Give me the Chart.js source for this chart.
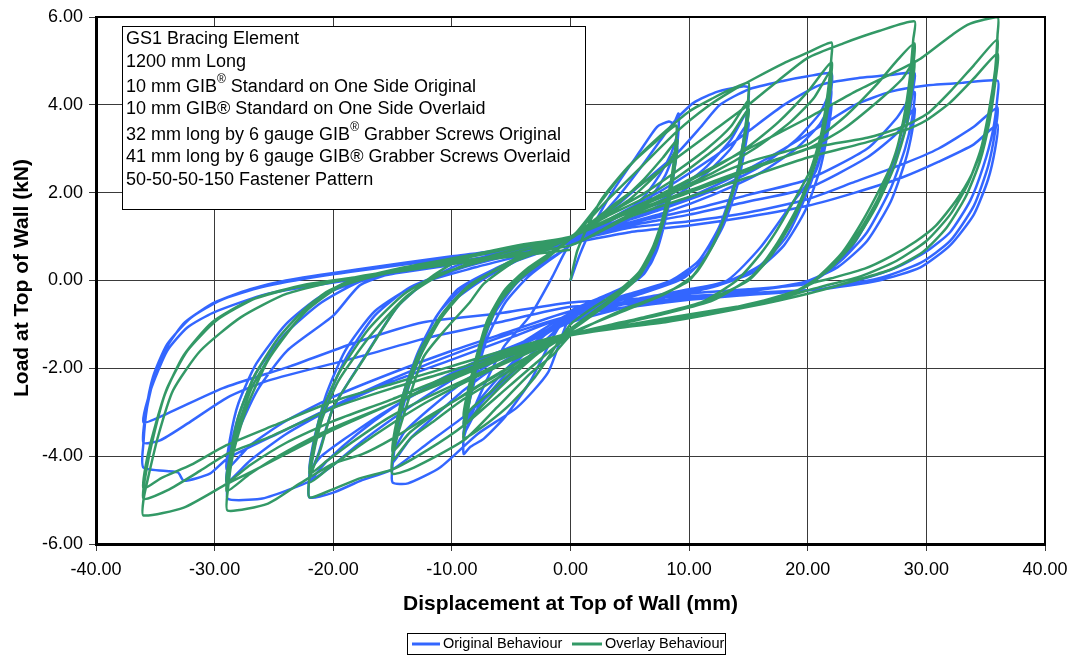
<!DOCTYPE html>
<html>
<head>
<meta charset="utf-8">
<script src="https://cdn.jsdelivr.net/npm/chart.js@4.4.0/dist/chart.umd.min.js"></script>
<style>
  html, body { margin: 0; padding: 0; background: #fff; }
  #wrap { width: 1072px; height: 655px; }
</style>
</head>
<body>
<div id="wrap"><canvas id="c" width="1072" height="655"></canvas></div>
<script>
// GS1 bracing element - load vs displacement hysteresis (original vs overlay)

const xTicks = [-40, -30, -20, -10, 0, 10, 20, 30, 40];
const yTicks = [-6, -4, -2, 0, 2, 4, 6];
const seriesNames = ['Original Behaviour', 'Overlay Behaviour'];

// Original behaviour, [displacement mm, load kN], three cycles per amplitude
const origCyc09 = [
  [0,0],[0.8,0.6],[1.7,1.14],[3.6,2.05],[5.9,2.96],[7.3,3.5],[8.3,3.62],[8.7,3.58],[9.1,3.8],
  [9.1,3.4],[8.8,2.6],[8.2,1.6],[7.3,0.7],[6.2,0.15],[4.5,-0.15],[2,-0.45],[0,-0.7],
  [-1.5,-1.3],[-3.4,-2.3],[-5.5,-3.1],[-7.3,-3.6],[-8.5,-3.8],[-9,-3.95],
  [-9,-3.6],[-8.4,-3.1],[-7.3,-2.4],[-5.6,-1.5],[-3.4,-0.8],[-1.5,0.1],[0,0.85],
  [2,1.15],[4,1.45],[6,1.85],[7.5,2.4],[8.5,2.9],[9,3.3],
  [8.9,2.9],[8.5,2.1],[7.8,1.2],[6.8,0.4],[5.5,0],[3,-0.35],[0,-0.75],
  [-2,-1.2],[-4,-1.7],[-6,-2.3],[-7.8,-2.9],[-9,-3.5],
  [-8.8,-3.1],[-8,-2.2],[-7,-1.3],[-5.5,-0.5],[-3.5,0.1],[0,0.8],
  [2,1.1],[4.5,1.4],[6.5,1.8],[8,2.4],[9,3.05],
  [8.8,2.6],[8.2,1.7],[7.3,0.8],[6,0.1],[3.5,-0.3],[0,-0.8],
  [-2.5,-1.3],[-5,-1.9],[-7,-2.5],[-8.3,-2.95],[-9,-3.3],
  [-8.7,-2.8],[-7.8,-1.8],[-6.5,-0.8],[-4.5,-0.05],[-2,0.45],[0,0.8]
];
const origCyc15 = [
  [2,1.3],[4,1.9],[6,2.6],[7.6,3.2],[9,3.7],[10.4,4.05],[12.4,4.3],[14.5,4.42],[15,4.4],
  [15,4.1],[14.6,3.2],[13.8,2.2],[12.5,1.2],[10.8,0.45],[8.5,0],[5,-0.3],[2,-0.55],[0,-0.8],
  [-1.9,-2.1],[-4.5,-2.89],[-7.8,-3.49],[-11,-4.26],[-13.7,-4.62],[-15,-4.6],
  [-15,-4.2],[-14.5,-3.3],[-13.5,-2.3],[-12,-1.3],[-10,-0.5],[-7.5,0],[-4.5,0.45],[-2,0.75],[0,0.95],
  [3,1.25],[6,1.6],[9,2.05],[11.5,2.6],[13.5,3.2],[15,3.9],
  [14.7,3.3],[14,2.4],[13,1.5],[11.5,0.6],[9.5,0.05],[6,-0.3],[3,-0.55],[0,-0.85],
  [-3,-1.4],[-6,-1.9],[-9,-2.5],[-11.5,-3.1],[-13.5,-3.6],[-15,-4.15],
  [-14.7,-3.6],[-14,-2.7],[-13,-1.8],[-11.5,-0.9],[-9.5,-0.2],[-6.5,0.25],[-3,0.65],[0,0.95],
  [3,1.2],[6,1.5],[9,1.95],[11.5,2.45],[13.5,3.0],[15,3.6],
  [14.7,3.0],[14,2.1],[12.8,1.2],[11,0.4],[8.5,-0.05],[5,-0.35],[0,-0.8],
  [-3,-1.3],[-6.5,-1.85],[-9.5,-2.4],[-12,-2.95],[-14,-3.45],[-15,-3.9],
  [-14.7,-3.4],[-14,-2.5],[-12.8,-1.6],[-11,-0.7],[-8.5,-0.05],[-5,0.4],[0,0.9]
];
const origCyc22 = [
  [3,1.5],[6,2.2],[9,2.9],[11,3.5],[12.6,4.0],[15,4.35],[18,4.55],[20,4.65],[22,4.72],
  [22,4.4],[21.6,3.5],[20.7,2.5],[18.8,1.8],[16,0.75],[13.2,0],[10,-0.2],[6,-0.4],[3,-0.6],[0,-0.85],
  [-3,-1.6],[-6,-2.4],[-9,-3.1],[-12,-3.7],[-15,-4.3],[-17.7,-4.56],[-20,-4.83],[-22,-4.94],
  [-22,-4.5],[-21.2,-3.9],[-20,-2.9],[-17.5,-1.8],[-14.6,-0.6],[-11.8,0.05],[-9,0.4],[-5,0.7],[0,0.95],
  [4,1.3],[8,1.65],[12,2.05],[16,2.6],[19,3.2],[21,3.8],[22,4.33],
  [21.7,3.7],[21,2.8],[19.8,1.9],[18.2,1.0],[16,0.35],[13,-0.05],[9,-0.3],[5,-0.5],[0,-0.9],
  [-4,-1.4],[-8,-1.85],[-12,-2.4],[-15,-2.9],[-18,-3.5],[-20.5,-4.1],[-22,-4.55],
  [-21.6,-3.8],[-20.6,-2.8],[-19,-1.8],[-16.5,-0.8],[-13.5,-0.15],[-9,0.3],[-4,0.65],[0,0.9],
  [4,1.25],[8,1.55],[12,1.95],[16,2.45],[19,3.0],[21,3.55],[22,4.03],
  [21.7,3.4],[21,2.5],[19.8,1.6],[18,0.8],[15.5,0.2],[12,-0.15],[7,-0.45],[0,-0.95],
  [-4,-1.45],[-8.5,-1.95],[-12.5,-2.5],[-16,-3.05],[-19,-3.6],[-21,-4.0],[-22,-4.3],
  [-21.6,-3.6],[-20.6,-2.6],[-19,-1.6],[-16.5,-0.7],[-13,-0.1],[-8,0.3],[-3,0.65],[0,0.9]
];
const origCyc29 = [
  [4,1.5],[8,2.1],[12,2.8],[15,3.4],[18,4.0],[21,4.45],[24,4.6],[27,4.68],[29,4.72],
  [28.9,4.4],[28.5,3.7],[27.8,3.1],[26.1,1.9],[23.9,0.84],[22,0.3],[20,-0.07],[15,-0.2],[10,-0.3],[5,-0.5],[0,-0.75],
  [-4,-1.4],[-8,-1.95],[-12,-2.6],[-15,-3.15],[-18,-3.75],[-20,-4.2],[-21.9,-4.56],[-23.9,-4.78],[-26.1,-4.97],[-28.9,-4.97],
  [-28.8,-4.5],[-28.4,-3.7],[-26.4,-2.5],[-23.9,-1.6],[-20,-0.8],[-17.7,-0.1],[-14,0.25],[-8,0.6],[0,0.95],
  [5,1.3],[10,1.6],[15,1.95],[20,2.3],[25,3.0],[27.5,3.7],[29,4.29],
  [28.8,3.7],[28.2,3.0],[27,2.1],[25,1.1],[23,0.5],[20.5,0],[15,-0.25],[8,-0.5],[0,-0.8],
  [-5,-1.3],[-10,-1.8],[-15,-2.3],[-20,-2.9],[-24,-3.5],[-27,-4.1],[-29,-4.6],
  [-28.7,-3.9],[-28,-3.1],[-26.5,-2.1],[-24,-1.2],[-21,-0.5],[-17.5,0],[-11,0.35],[-5,0.65],[0,0.9],
  [5,1.25],[10,1.5],[15,1.8],[20,2.1],[25,2.8],[27.5,3.35],[29,3.92],
  [28.8,3.4],[28.2,2.7],[27,1.8],[25,0.9],[22.5,0.3],[19.5,-0.05],[13,-0.3],[6,-0.5],[0,-0.7],
  [-5,-1.15],[-10,-1.6],[-15,-2.1],[-20,-2.65],[-24,-3.2],[-27,-3.75],[-29,-4.3],
  [-28.7,-3.6],[-28,-2.8],[-26.5,-1.9],[-24,-1.0],[-21,-0.35],[-17,0.05],[-10,0.4],[-4,0.7],[0,0.9]
];
const origCyc36 = [
  [5,1.4],[10,1.9],[14,2.4],[18,3.0],[21,3.5],[24,4.0],[27,4.3],[30,4.44],[33,4.5],[36,4.55],
  [36,4.2],[35.6,3.4],[34.8,2.6],[33.7,1.82],[32,1.1],[30,0.66],[27.5,0.3],[24.8,0.05],[21,-0.2],[15,-0.3],[8,-0.5],[0,-0.8],
  [-6,-1.3],[-12,-1.9],[-18,-2.6],[-24,-3.4],[-28.9,-4.05],[-30.4,-4.4],[-32.6,-4.56],[-33.1,-4.37],[-36,-4.26],
  [-36,-3.7],[-35.7,-2.9],[-35,-2.1],[-34,-1.5],[-32.5,-0.95],[-30,-0.5],[-27,-0.2],[-24,0],[-18,0.25],[-10,0.55],[0,0.9],
  [5,1.2],[10,1.35],[15,1.55],[20,1.85],[24,2.25],[28,2.65],[31,3.0],[34,3.5],[36,3.94],
  [35.8,3.4],[35.2,2.6],[34,1.7],[32,0.9],[29.5,0.4],[26,0.05],[21,-0.2],[14,-0.35],[7,-0.5],[0,-0.6],
  [-6,-0.95],[-12,-1.3],[-18,-1.75],[-25.5,-2.28],[-28.9,-2.66],[-32.3,-3.26],[-34.6,-3.64],[-36,-3.69],
  [-35.8,-3.0],[-35.2,-2.2],[-34,-1.45],[-32,-0.85],[-29.5,-0.45],[-26,-0.15],[-21,0.1],[-13,0.4],[-6,0.65],[0,0.85],
  [5,1.1],[10,1.25],[15,1.45],[20,1.7],[24,2.0],[28,2.35],[31,2.7],[34,3.1],[36,3.55],
  [35.8,3.0],[35.2,2.3],[34,1.5],[32,0.8],[29.5,0.3],[26,0],[21,-0.2],[14,-0.3],[7,-0.4],[0,-0.5],
  [-6,-0.75],[-12.4,-0.95],[-18,-1.4],[-23.6,-1.95],[-29.3,-2.45],[-34,-3.03],[-36,-3.23],
  [-35.4,-2.5],[-34,-1.6],[-32.3,-1.07],[-30.1,-0.73],[-25.5,-0.3],[-17.7,0.05],[-10,0.35]
];

// Overlay behaviour
const overCyc09 = [
  [0,0],[0.6,0.7],[2.5,1.8],[4.8,2.57],[7,3.12],[8.9,3.53],
  [8.9,3.2],[8.6,2.5],[8,1.6],[7,0.8],[5.8,0.2],[4,-0.25],[2,-0.6],[0,-1.0],
  [-1.5,-1.6],[-3,-2.2],[-5,-2.8],[-7,-3.25],[-9,-3.6],
  [-8.8,-3.2],[-8.2,-2.3],[-7.3,-1.3],[-6,-0.5],[-4,0.1],[-2,0.5],[0,0.95],
  [2,1.35],[4,1.75],[6,2.25],[7.8,2.8],[9,3.2],
  [8.8,2.8],[8.2,1.9],[7.3,1.0],[6,0.25],[4,-0.3],[2,-0.7],[0,-1.1],
  [-2,-1.5],[-4,-1.95],[-6,-2.45],[-7.8,-2.95],[-9,-3.3],
  [-8.8,-2.9],[-8.1,-2.0],[-7.1,-1.1],[-5.7,-0.35],[-3.8,0.2],[-1.8,0.6],[0,0.95],
  [2.5,1.4],[5,1.85],[7,2.35],[8.3,2.7],[9,3.0],
  [8.8,2.6],[8.2,1.7],[7.2,0.8],[5.8,0.1],[3.5,-0.45],[0,-1.15],
  [-2.5,-1.6],[-5,-2.1],[-7,-2.6],[-8.3,-2.9],[-9,-3.1],
  [-8.8,-2.7],[-8,-1.8],[-7,-0.9],[-5.5,-0.2],[-3.5,0.3],[0,0.95]
];
const overCyc15 = [
  [2,1.6],[4,2.3],[6,2.9],[8,3.4],[10,3.85],[12,4.15],[13.5,4.35],[15,4.5],
  [15,4.2],[14.7,3.4],[14.1,2.5],[13.2,1.6],[12,0.8],[10.3,0.1],[8,-0.3],[5,-0.6],[2.5,-0.9],[0,-1.25],
  [-1.5,-1.7],[-3.4,-2.12],[-6.2,-2.89],[-9,-3.64],[-13.2,-4.26],[-15,-4.4],
  [-15,-4.0],[-14.1,-3.1],[-12.4,-1.75],[-10.4,-1.07],[-8.5,-0.5],[-7.3,-0.07],[-4.2,0.52],[0,0.98],
  [3,1.5],[6,1.95],[9,2.5],[11.5,3.0],[13.5,3.5],[15,4.1],
  [14.8,3.6],[14.3,2.7],[13.4,1.8],[12.2,0.9],[10.5,0.15],[8,-0.3],[4,-0.75],[0,-1.2],
  [-3,-1.7],[-6,-2.2],[-9,-2.7],[-11.5,-3.2],[-13.5,-3.6],[-15,-4.1],
  [-14.8,-3.6],[-14,-2.7],[-12.8,-1.8],[-11,-0.9],[-9,-0.25],[-6,0.3],[-3,0.7],[0,1.0],
  [3,1.45],[6,1.85],[9,2.35],[11.5,2.85],[13.5,3.3],[15,3.9],
  [14.8,3.4],[14.2,2.5],[13.2,1.6],[11.8,0.7],[10,0.0],[7,-0.4],[3.5,-0.8],[0,-1.2],
  [-3,-1.65],[-6,-2.1],[-9,-2.6],[-11.5,-3.05],[-13.5,-3.45],[-15,-3.9],
  [-14.8,-3.4],[-14,-2.5],[-12.7,-1.6],[-10.8,-0.75],[-8.5,-0.1],[-5,0.4],[0,0.98]
];
const overCyc22 = [
  [3,1.8],[6,2.6],[9,3.4],[11.5,3.95],[13.5,4.3],[15.5,4.6],[18,4.95],[20,5.19],[22,5.42],
  [22,5.1],[21.7,4.3],[21.1,3.3],[20.2,2.5],[18.8,1.8],[17.3,1.1],[16,0.6],[14,0.0],[11,-0.5],[7,-0.8],[3.5,-1.0],[0,-1.25],
  [-3,-1.9],[-6,-2.6],[-9,-3.3],[-12,-3.85],[-15,-4.3],[-17.7,-4.5],[-20,-4.75],[-22,-4.94],
  [-22,-4.5],[-21.1,-3.87],[-20,-2.89],[-17.5,-1.82],[-14.6,-0.6],[-11.8,0.07],[-9,0.52],[-4.5,0.8],[0,1.0],
  [4,1.5],[8,2.0],[12,2.55],[15,3.05],[17.5,3.6],[20,4.3],[22,4.97],
  [21.8,4.3],[21.3,3.4],[20.4,2.5],[19,1.6],[17.3,0.8],[15.3,0.1],[12,-0.45],[8,-0.75],[4,-1.0],[0,-1.25],
  [-4,-1.7],[-8,-2.2],[-12,-2.75],[-15,-3.25],[-18,-3.8],[-20.5,-4.3],[-22,-4.6],
  [-21.7,-4.0],[-21,-3.2],[-19.6,-2.3],[-17,-1.3],[-14,-0.4],[-11.5,0.05],[-8,0.45],[-4,0.75],[0,1.0],
  [4,1.45],[8,1.95],[12,2.45],[15.5,3.0],[18.5,3.6],[20.5,4.15],[22,4.8],
  [21.8,4.1],[21.2,3.2],[20.2,2.3],[18.8,1.4],[17,0.6],[15,0.0],[11,-0.5],[6,-0.85],[0,-1.25],
  [-4,-1.65],[-8,-2.15],[-12,-2.65],[-15.5,-3.15],[-18.5,-3.7],[-20.5,-4.1],[-22,-4.4],
  [-21.7,-3.8],[-21,-3.0],[-19.5,-2.1],[-17,-1.1],[-14,-0.3],[-11,0.15],[-6,0.55],[0,1.0]
];
const overCyc29 = [
  [4,1.8],[8,2.6],[12,3.4],[15,4.0],[17.5,4.55],[20,5.07],[23,5.4],[26,5.68],[29,5.9],
  [28.9,5.5],[28.6,4.6],[28.1,3.7],[27.3,2.8],[26.1,2.1],[24.5,1.3],[22.8,0.6],[20.5,0.0],[17.6,-0.43],[14,-0.6],[10.1,-0.77],[5,-1.0],[0,-1.25],
  [-4,-1.8],[-8,-2.45],[-12,-3.1],[-15,-3.6],[-17.5,-3.95],[-20,-4.17],[-22.8,-4.62],[-25.5,-5.08],[-28.9,-5.24],
  [-28.9,-4.8],[-28.4,-3.9],[-27.3,-2.9],[-25.5,-1.82],[-23,-0.9],[-20.8,-0.3],[-17.7,0.07],[-12.4,0.35],[-6,0.7],[0,1.0],
  [5,1.6],[10,2.15],[15,2.7],[20,3.1],[23,3.7],[25.9,4.49],[27.5,5.0],[29,5.4],
  [28.8,4.7],[28.3,3.8],[27.4,2.9],[26,1.9],[24.3,1.1],[22.3,0.4],[19.8,-0.15],[15,-0.55],[9,-0.85],[4,-1.05],[0,-1.25],
  [-5,-1.7],[-10,-2.25],[-15,-2.8],[-20,-3.35],[-24,-3.9],[-27,-4.4],[-29,-4.8],
  [-28.7,-4.2],[-28,-3.3],[-26.8,-2.4],[-24.8,-1.5],[-22.3,-0.7],[-19.5,-0.15],[-15,0.2],[-9,0.5],[-4,0.8],[0,1.0],
  [5,1.55],[10,2.05],[15,2.55],[20,3.0],[23,3.45],[26,4.1],[28,4.6],[29,5.0],
  [28.8,4.4],[28.3,3.5],[27.3,2.6],[25.8,1.7],[24,0.9],[21.8,0.25],[19,-0.25],[14,-0.6],[7,-0.95],[0,-1.25],
  [-5,-1.65],[-10,-2.15],[-15,-2.7],[-20,-3.2],[-24,-3.7],[-27,-4.2],[-29,-4.6],
  [-28.7,-4.0],[-28,-3.1],[-26.7,-2.2],[-24.6,-1.3],[-22,-0.55],[-19,-0.05],[-14,0.3],[-7,0.65],[0,1.0]
];
const overCyc36 = [
  [5,1.6],[10,2.3],[15,3.0],[20,3.7],[24,4.3],[27,4.7],[29.5,5.05],[32.3,5.62],[33.7,5.85],[36,6.0],
  [36,5.6],[35.8,4.8],[35.4,3.9],[34.8,3.1],[33.8,2.4],[32.5,1.82],[30.8,1.25],[29.1,0.89],[27,0.55],[24.8,0.27],[22,0.05],[20.5,-0.05],[17.6,-0.43],[14,-0.65],[10,-0.85],[5,-1.05],[0,-1.25],
  [-5,-1.7],[-10,-2.2],[-15,-2.8],[-20,-3.4],[-24,-3.95],[-26.5,-4.3],[-28.9,-4.62],[-32.6,-5.17],[-36,-5.35],
  [-36,-5.0],[-35.7,-4.6],[-34.8,-3.58],[-33.5,-2.5],[-31.2,-1.6],[-27.8,-0.84],[-23.9,-0.3],[-17.7,0.1],[-10,0.4],[0,0.8],
  [5,1.5],[10,2.0],[15,2.5],[20,3.0],[25,3.25],[28,3.5],[30.1,3.8],[32,4.3],[34,4.9],[36,5.49],
  [35.8,4.8],[35.3,3.9],[34.6,3.0],[33.5,2.2],[32,1.5],[30,0.9],[27.5,0.45],[24.5,0.1],[21,-0.15],[17,-0.45],[12,-0.75],[6,-1.0],[0,-1.2],
  [-5,-1.6],[-10,-2.05],[-15,-2.45],[-20,-2.9],[-25.5,-3.58],[-28.9,-3.94],[-31.2,-4.33],[-34,-4.78],[-36,-4.97],
  [-35.8,-4.4],[-35.2,-3.6],[-34.2,-2.6],[-32.6,-1.7],[-30.2,-0.95],[-27,-0.45],[-23,-0.15],[-17,0.1],[-9,0.45],[0,0.8],
  [5,1.45],[10,1.9],[15,2.35],[20,2.8],[25,3.15],[28,3.4],[30,3.65],[32,4.05],[34,4.6],[36,5.17],
  [35.8,4.5],[35.3,3.6],[34.5,2.7],[33.3,1.9],[31.7,1.2],[29.7,0.65],[27,0.25],[24,0.0],[20,-0.3],[15,-0.6],[8,-0.95],[0,-1.2],
  [-5,-1.55],[-10,-1.95],[-15,-2.35],[-20,-2.75],[-25,-3.3],[-29,-3.75],[-32,-4.2],[-34.5,-4.5],[-36,-4.74],
  [-35.8,-4.2],[-35.1,-3.4],[-34,-2.45],[-32.3,-1.6],[-29.8,-0.9],[-26.5,-0.4],[-22.5,-0.1],[-16,0.15],[-8,0.45],[0,0.7]
];

// Annotation lines; parts flagged sup are drawn as superscript
const noteLines = [
  [{ t: 'GS1 Bracing Element' }],
  [{ t: '1200 mm Long' }],
  [{ t: '10 mm GIB' }, { t: '®', sup: true }, { t: ' Standard on One Side Original' }],
  [{ t: '10 mm GIB® Standard on One Side Overlaid' }],
  [{ t: '32 mm long by 6 gauge GIB' }, { t: '®', sup: true }, { t: ' Grabber Screws Original' }],
  [{ t: '41 mm long by 6 gauge GIB® Grabber Screws Overlaid' }],
  [{ t: '50-50-50-150 Fastener Pattern' }]
];
const noteLineY = [39, 62, 87, 109, 135, 157, 180];

const FONT = "'Liberation Sans', Arial, sans-serif";
const BLUE = '#3366FF';
const GREEN = '#339966';

function toPoints(...parts) {
  return parts.flat().map(p => ({ x: p[0], y: p[1] }));
}

// Draws the frame, note box, axis titles and legend box
const decorPlugin = {
  id: 'decor',
  afterDatasetsDraw(chart) {
    const { ctx, chartArea: a } = chart;
    ctx.save();
    // top / right frame
    ctx.strokeStyle = '#000';
    ctx.lineWidth = 2;
    ctx.beginPath();
    ctx.moveTo(a.left, a.top);
    ctx.lineTo(a.right, a.top);
    ctx.lineTo(a.right, a.bottom);
    ctx.stroke();

    // note box
    ctx.fillStyle = '#fff';
    ctx.fillRect(122.5, 26.5, 463, 183);
    ctx.lineWidth = 1;
    ctx.strokeRect(122.5, 26.5, 463, 183);
    ctx.fillStyle = '#000';
    ctx.textBaseline = 'middle';
    ctx.textAlign = 'left';
    noteLines.forEach((parts, i) => {
      let x = 126;
      const y = noteLineY[i];
      parts.forEach(p => {
        ctx.font = p.sup ? `12px ${FONT}` : `18px ${FONT}`;
        ctx.fillText(p.t, x, p.sup ? y - 7 : y);
        x += ctx.measureText(p.t).width;
      });
    });

    // axis titles
    ctx.font = `bold 21px ${FONT}`;
    ctx.textAlign = 'center';
    ctx.fillText('Displacement at Top of Wall (mm)', (a.left + a.right) / 2, 604);
    ctx.save();
    ctx.translate(22, 278);
    ctx.rotate(-Math.PI / 2);
    ctx.fillText('Load at Top of Wall (kN)', 0, 0);
    ctx.restore();

    // legend
    ctx.lineWidth = 1;
    ctx.strokeRect(407.5, 633.5, 318, 21);
    ctx.font = `14.5px ${FONT}`;
    ctx.textAlign = 'left';
    const items = [
      { x: 412, w: 28, color: BLUE, label: seriesNames[0] },
      { x: 572, w: 30, color: GREEN, label: seriesNames[1] }
    ];
    items.forEach(it => {
      ctx.strokeStyle = it.color;
      ctx.lineWidth = 3;
      ctx.beginPath();
      ctx.moveTo(it.x, 644);
      ctx.lineTo(it.x + it.w, 644);
      ctx.stroke();
      ctx.fillStyle = '#000';
      ctx.fillText(it.label, it.x + it.w + 3, 644);
    });
    ctx.restore();
  }
};

new Chart(document.getElementById('c'), {
  type: 'scatter',
  data: {
    datasets: [
      {
        label: seriesNames[0],
        data: toPoints(origCyc09, origCyc15, origCyc22, origCyc29, origCyc36),
        borderColor: BLUE,
        backgroundColor: BLUE,
        borderWidth: 2.5,
        showLine: true,
        pointRadius: 0,
        tension: 0.2,
        order: 2
      },
      {
        label: seriesNames[1],
        data: toPoints(overCyc09, overCyc15, overCyc22, overCyc29, overCyc36),
        borderColor: GREEN,
        backgroundColor: GREEN,
        borderWidth: 2.5,
        showLine: true,
        pointRadius: 0,
        tension: 0.2,
        order: 1
      }
    ]
  },
  options: {
    responsive: false,
    animation: false,
    devicePixelRatio: 1,
    layout: { autoPadding: false, padding: { top: 17, right: 27, left: 0, bottom: 0 } },
    plugins: {
      legend: { display: false },
      tooltip: { enabled: false }
    },
    scales: {
      x: {
        type: 'linear',
        min: xTicks[0],
        max: xTicks[xTicks.length - 1],
        afterBuildTicks: s => { s.ticks = xTicks.map(v => ({ value: v })); },
        afterFit: s => {
          s.height = 111;
          s.paddingLeft = 0;
          s.paddingRight = 0;
        },
        ticks: {
          color: '#000',
          padding: 8,
          maxRotation: 0,
          font: { family: FONT, size: 18 },
          callback: v => v.toFixed(2)
        },
        grid: { color: '#3a3a3a', lineWidth: 1, tickLength: 7 },
        border: { color: '#000', width: 3 }
      },
      y: {
        type: 'linear',
        min: yTicks[0],
        max: yTicks[yTicks.length - 1],
        afterBuildTicks: s => { s.ticks = yTicks.map(v => ({ value: v })); },
        afterFit: s => {
          s.width = 96;
          s.paddingTop = 0;
          s.paddingBottom = 0;
        },
        ticks: {
          color: '#000',
          padding: 6,
          font: { family: FONT, size: 18 },
          callback: v => v.toFixed(2)
        },
        grid: { color: '#3a3a3a', lineWidth: 1, tickLength: 7 },
        border: { color: '#000', width: 3 }
      }
    }
  },
  plugins: [decorPlugin]
});
</script>
</body>
</html>
